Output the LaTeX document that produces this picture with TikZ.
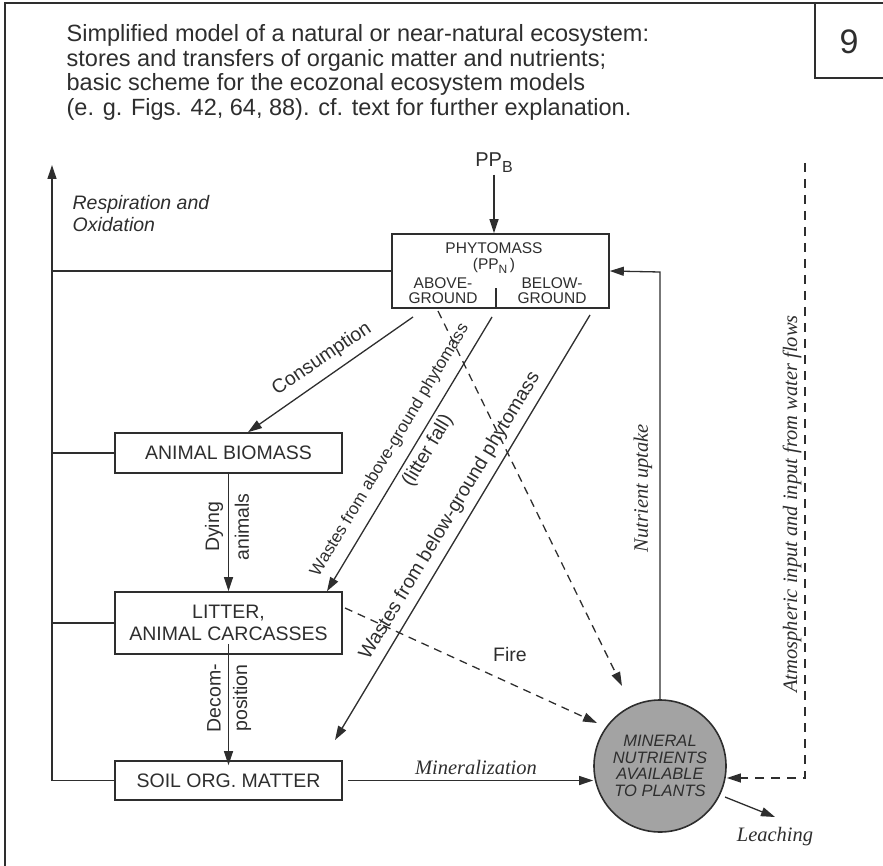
\documentclass[tikz,border=0pt]{standalone}
\usepackage{fontspec}
\setmainfont{Liberation Sans}
\newfontfamily\serifit{Liberation Serif}
\usetikzlibrary{arrows.meta,calc}
\definecolor{ink}{gray}{0.18}
\definecolor{ball}{gray}{0.64}
\newcommand{\fs}[2]{\fontsize{#1}{#2}\selectfont}
\begin{document}
\begin{tikzpicture}[x=1pt,y=-1pt,line width=1.3pt,color=ink,
  box/.style={draw,line width=1.6pt,minimum width=227pt,inner sep=0pt,font=\fs{19.5}{22},align=center},
  flow/.style={-{Triangle[length=14pt,width=9pt]},line width=1.3pt},
  dflow/.style={flow,dash pattern=on 8pt off 6pt},
  lab/.style={font=\fs{19.5}{22},inner sep=0pt},
  smalllab/.style={font=\fs{15.5}{15}\selectfont,inner sep=0pt,align=center},
  itlab/.style={font=\serifit\itshape\fs{20.5}{22},inner sep=0pt}]
\useasboundingbox (0,0) rectangle (883,866);
% frame
\draw[line width=2pt] (5,866) -- (5,3) -- (883,3);
\coordinate (ninecorner) at (815,78);
\draw[line width=1.8pt] (815,3) -- (ninecorner) -- (883,78);
\node[font=\fs{34}{34}] (nine) at (849,42) {9};
% title
\node[anchor=north west,align=left,inner sep=0pt,font=\fs{23.5}{24.5}] (title) at (66,24)
 {Simplified model of a natural or near-natural ecosystem:\\
  stores and transfers of organic matter and nutrients;\\
  basic scheme for the ecozonal ecosystem models\\
  (e. g. Figs. 42, 64, 88). cf. text for further explanation.};
% boxes
\node[box,minimum width=217pt,minimum height=74pt] (phyto) at (500.5,271) {};
\node[smalllab] (ptxt) at (494,248) {PHYTOMASS};
\node[smalllab] (ppn) at (494,266) {(PP\raisebox{-0.3em}{\fs{12}{12}N}\,)};
\node[smalllab] (above) at (443,290.5) {ABOVE-\\GROUND};
\node[smalllab] (below) at (552,290.5) {BELOW-\\GROUND};
\draw[line width=1.3pt] ([xshift=-4.5pt]phyto.south) -- ++(0,-21);
\node[box,minimum height=40pt] (animal) at (228.5,453) {ANIMAL BIOMASS};
\node[box,minimum height=62pt] (litter) at (228.5,623) {LITTER,\\ANIMAL CARCASSES};
\node[box,minimum height=39pt] (soil) at (228.5,780.5) {SOIL ORG. MATTER};
\node[circle,draw,line width=1.6pt,fill=ball,minimum size=132pt,inner sep=0pt,align=center,
  font=\itshape\fs{16.5}{16.7}] (mineral) at (660,766) {MINERAL\\NUTRIENTS\\AVAILABLE\\TO PLANTS};
% PP_B input
\node[font=\fs{20}{20},inner sep=1pt] (ppb) at (494,163) {PP\raisebox{-0.3em}{\fs{16}{16}B}};
\draw[flow] (ppb.south) -- (ppb.south |- phyto.north);
% respiration
\coordinate (rtop) at (52,165);
\coordinate (rbot) at (52,780.5);
\draw[flow] (rbot) -- (rtop);
\draw (phyto.west) -- (phyto.west -| rtop);
\draw (animal.west) -- (animal.west -| rtop);
\draw (litter.west) -- (litter.west -| rtop);
\draw (soil.west) -- (rbot);
\node[anchor=west,align=left,inner sep=0pt,font=\itshape\fs{19.5}{22}] (resp) at (72,214) {Respiration and\\Oxidation};
% consumption
\coordinate (c1) at (413,317);
\draw[flow] (c1) -- ($(animal.north)+(19.5,0)$);
\node[lab,rotate=34] (lcons) at (322,359) {Consumption};
% dying animals, decomposition
\draw[flow] ([yshift=2pt]animal.south) -- (litter.north);
\node[lab,rotate=90] (ldy) at (214,527) {Dying};
\node[lab,rotate=90] (lan) at (242,527) {animals};
\draw[flow] ([yshift=11pt]litter.south) -- ([yshift=-5pt]soil.north);
\node[lab,rotate=90] (ldec) at (214,698) {Decom-};
\node[lab,rotate=90] (lpos) at (242,698) {position};
% wastes above-ground
\coordinate (w1) at (492,317);
\draw[flow] (w1) -- ($(litter.north)+(98.5,0)$);
\node[lab,font=\fs{17}{17},rotate=59] (lwa) at (390,450) {Wastes from above-ground phytomass};
\node[lab,rotate=59] (llf) at (428,451) {(litter fall)};
% wastes below-ground
\coordinate (w2) at (590,315);
\coordinate (w2t) at (335,740);
\draw[flow] (w2) -- (w2t);
\node[lab,rotate=59] (lwb) at (450,516) {Wastes from below-ground phytomass};
% dashed from phytomass to minerals
\coordinate (d1) at (438,311);
\coordinate (d1t) at (622,686);
\draw[dflow] (d1) -- (d1t);
% fire
\coordinate (f1) at (345,608);
\coordinate (f1t) at (597,723);
\draw[dflow] (f1) -- (f1t);
\node[lab] (lfire) at (510,655) {Fire};
% mineralization
\draw[flow] ([xshift=5pt]soil.east) -- (soil.east -| mineral.west);
\node[itlab] (lmin) at (476,767) {Mineralization};
% nutrient uptake
\coordinate (nu) at (660,272);
\draw[flow] (mineral.north) -- (nu) -- (phyto.east);
\node[itlab,rotate=90] (lnu) at (643,488) {Nutrient uptake};
% atmospheric input
\coordinate (at1) at (805,163);
\coordinate (at2) at (805,778);
\draw[flow,dash pattern=on 9pt off 7pt] (at1) -- (at2) -- (at2 -| mineral.east);
\node[itlab,rotate=90] (latm) at (792,504) {Atmospheric input and input from water flows};
% leaching
\coordinate (le1) at (725,797);
\coordinate (le2) at (775,817);
\draw[flow] (le1) -- (le2);
\node[itlab] (lleach) at (775,837) {Leaching};
\end{tikzpicture}
\end{document}
